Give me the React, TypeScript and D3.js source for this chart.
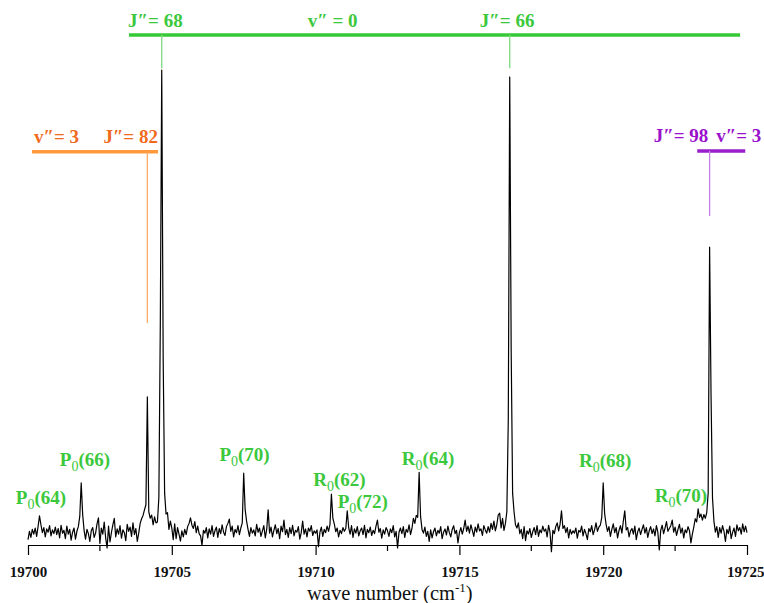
import React, { useEffect, useRef } from "react";
import * as d3 from "d3";

// spectrum sampled every 0.05 cm-1 from 19700 to 19725
const waveStart = 19700;
const waveStep = 0.05;
const intensity = [
  -1.0, 0.8, -0.5, 1.2, 0.2, 1.5, -0.3, 1.8, 4.1, 2.2, 0.5, 1.6, -0.4, 1.3, 0.6, 2.0, -0.2, 1.1, 0.3, 1.7,
  0.1, 1.4, -0.6, 2.1, 0.4, 1.0, -0.8, 1.9, 0.2, 1.2, -1.1, 0.6, 1.5, -0.9, 0.8, 1.8, 4.0, 11.2, 4.5, 1.0,
  -0.9, 1.2, 0.3, -1.4, 0.9, 1.6, -0.5, 0.4, 2.4, 3.7, -1.8, 1.5, 0.2, 2.8, -0.6, -2.8, 1.9, -1.5, 0.5, 2.2,
  3.6, -0.4, 1.3, 0.2, 2.0, -0.7, 1.1, 0.5, -1.2, 2.3, 0.8, 1.7, -0.3, 2.6, 0.1, 1.4, -1.4, 0.4, 2.5, 3.5,
  4.2, 5.4, 6.5, 29.7, 5.0, 3.6, 4.3, 2.2, 3.9, 2.6, 2.8, 8.0, 45, 100, 38, 9.0, 4.5, 4.8, 1.2, 3.0,
  1.5, -1.0, 2.4, -0.8, 1.6, 0.2, -1.3, 0.9, -0.4, 1.2, 0.1, 1.8, 2.5, 3.7, 2.1, 1.4, 2.9, 0.5, 1.9, 0.3,
  -0.2, -2.2, 1.0, 0.4, 1.6, -0.6, 1.3, 0.2, 2.0, -0.3, 0.9, 1.7, -0.5, 1.4, 0.3, 2.2, 0.6, -0.1, 1.8, 2.5,
  3.4, 0.8, 1.9, -0.4, 1.2, 0.5, 2.0, 0.1, 1.5, 2.6, 13.3, 5.5, 3.0, 1.2, -0.3, 1.6, 0.4, 1.1, -0.2, 2.3,
  0.6, 1.5, -0.3, 0.9, 2.0, -0.6, 1.2, 5.4, 0.4, 1.7, -0.4, 1.0, 2.2, 0.3, 1.4, -0.8, 1.9, 0.7, 3.2, 0.1,
  1.2, -0.5, 1.6, 0.3, 2.1, -0.2, 1.0, 0.6, 1.8, -0.9, 0.5, 3.0, 0.2, 1.3, -0.4, 1.5, 0.8, 2.0, -0.1, 0.9,
  0.4, 1.1, -2.5, 0.6, 1.7, -0.3, 1.2, 0.5, 1.9, 0.8, 2.3, 8.8, 3.6, 2.4, 0.7, 1.5, -0.4, 1.0, 0.3, 1.6,
  0.8, 1.4, 5.2, 1.6, 0.2, 2.0, -0.5, 1.3, 0.4, 1.8, -0.2, 0.9, 1.5, 0.1, 2.1, -0.6, 1.2, 0.5, 1.7, -0.1,
  1.0, 0.3, 1.9, 3.2, 0.6, 1.4, -0.7, 1.1, 0.2, 1.6, 0.9, -0.3, 1.3, 0.5, 2.0, -0.4, 0.8, -2.8, 0.6, 1.5,
  0.3, 1.8, -0.5, 1.2, 0.6, 2.2, 0.1, 1.4, 3.6, 2.5, 4.2, 3.8, 13.5, 4.0, 1.2, 0.4, 1.7, -0.3, 0.8, -1.4,
  1.1, -0.6, 0.7, 1.5, -0.2, 1.0, 0.4, 1.8, -0.8, 0.6, 1.3, 0.0, 1.9, 0.5, -0.4, 1.2, 2.0, 0.3, 1.0, -1.7,
  0.5, 1.6, 0.2, 1.4, 3.2, 0.8, 1.9, 0.4, 2.2, 1.0, -0.3, 1.7, 0.6, 2.4, 0.9, 1.3, -0.1, 2.0, 1.1, 0.4,
  1.8, 0.6, 2.5, 1.2, 3.0, 0.9, 2.2, 4.3, 4.7, 1.5, 3.6, 1.0, 2.5, 5.0, 25, 98.5, 40, 9.0, 5.0, 2.2,
  1.5, 2.6, 0.3, 1.2, -0.8, 1.8, -1.2, 0.9, 0.2, 1.4, -0.5, 0.7, 1.6, 0.1, 2.0, -0.3, 1.1, 0.5, 1.9, 0.8,
  1.3, -0.4, 2.1, 0.6, -3.6, 1.0, 0.3, 1.8, 2.6, 0.9, 2.3, 5.2, 1.4, 2.0, 0.5, 1.6, -0.6, 1.2, 0.2, 0.9,
  0.4, 1.5, -0.7, 1.0, 0.6, 1.9, -0.2, 1.2, 0.3, -1.0, 1.4, 0.7, 2.0, 0.1, 1.1, 2.6, 0.8, 1.7, 2.1, 3.8,
  11.2, 4.6, 2.3, 0.8, 1.8, -0.3, 1.2, 2.4, 0.5, 1.6, -0.6, 1.0, 2.0, 0.4, 3.0, 5.2, 1.1, 1.6, -0.4, 0.9,
  1.4, 0.2, 1.9, -1.0, 0.7, 1.5, 0.1, 1.2, 2.2, 0.4, 1.6, -0.5, 0.9, 1.8, 0.3, 1.3, -0.2, 2.0, 0.6, -3.2,
  1.0, 2.1, 0.3, 1.5, 2.9, 0.8, 1.4, 2.0, 3.2, 0.6, 1.7, -0.1, 1.2, 2.3, 0.4, 1.5, -0.6, 1.1, 0.5, 1.8,
  0.9, -1.7, 0.2, 1.7, 3.5, 2.8, 5.6, 3.8, 4.5, 3.2, 4.4, 3.6, 4.8, 9.0, 61.9, 30, 8.0, 3.0, 0.6, 1.8,
  -0.5, 1.6, 0.4, 2.0, 0.8, -1.4, 1.2, 0.3, 1.9, -0.8, 0.6, 1.5, -0.3, 2.2, 0.9, 1.6, 0.2, 2.4, 0.7, 1.9,
  0.5
];

const xTicks = [19700, 19705, 19710, 19715, 19720, 19725];
const xMinorTicks = [19702.5, 19707.5, 19712.5, 19717.5, 19722.5];

// rotational line labels: branch, J, and where the label sits (wave, intensity)
const lineBranch = ["P", "P", "P", "R", "P", "R", "R", "R"];
const lineJ = ["64", "66", "70", "62", "72", "64", "68", "70"];
const lineLabelWave = [19700.45, 19701.98, 19707.53, 19710.83, 19711.64, 19713.91, 19720.07, 19722.7];
const lineLabelLevel = [6.7, 14.8, 15.9, 10.5, 5.8, 15.05, 14.6, 7.1];

// v'' = 0 progression bar
const v0Bar = [19703.51, 19724.76];
const v0BarLevel = 107.5;
const v0Marks = [19704.65, 19716.75];
const v0MarkEnd = 100.4;
const v0Texts = [["J″= 68"], ["v″ = 0"], ["J″= 66"]];
const v0TextWaves = [19704.43, 19710.59, 19716.66];
const v0TextLevel = 109.2;

// v'' = 3, J'' = 82
const v3aBar = [19700.14, 19704.52];
const v3aBarLevel = 82.4;
const v3aMark = 19704.15;
const v3aMarkEnd = 45.6;
const v3aTexts = [["v″= 3"], ["J″= 82"]];
const v3aTextWaves = [19700.99, 19703.57];
const v3aTextLevel = 84.3;

// v'' = 3, J'' = 98 (text ends at the right edge)
const v3bBar = [19723.27, 19724.94];
const v3bBarLevel = 82.6;
const v3bMark = 19723.7;
const v3bMarkEnd = 68.6;
const v3bTexts = [["J″= 98", "v″= 3"]];
const v3bTextWaves = [19725.5];
const v3bTextLevel = 84.5;

const serif = "'Liberation Serif', 'Times New Roman', serif";

export default function App() {
  const ref = useRef<SVGSVGElement>(null);

  useEffect(() => {
    const svg = d3.select(ref.current);
    svg.selectAll("*").remove();

    const x = d3.scaleLinear().domain([19700, 19725]).range([28, 747]);
    const y = d3.scaleLinear().domain([-2.15, 100]).range([545, 70]);

    // axis
    const axis = svg.append("g").attr("transform", "translate(0,545)");
    axis.call(
      d3
        .axisBottom(x)
        .tickValues(xTicks)
        .tickSize(10)
        .tickSizeOuter(0)
        .tickPadding(11)
        .tickFormat(d3.format("d"))
    );
    axis.select(".domain").attr("stroke", "#000").attr("stroke-width", 1.2);
    axis.selectAll(".tick line").attr("stroke", "#000").attr("stroke-width", 1.2);
    axis
      .selectAll(".tick text")
      .attr("fill", "#111")
      .style("font-family", serif)
      .style("font-size", "15px")
      .style("font-weight", "bold");
    // last label sits against the right edge
    axis
      .selectAll<SVGTextElement, number>(".tick text")
      .filter(d => d === 19725)
      .attr("text-anchor", "end")
      .attr("x", 17);
    axis
      .selectAll(".minor")
      .data(xMinorTicks)
      .enter()
      .append("line")
      .attr("x1", d => x(d))
      .attr("x2", d => x(d))
      .attr("y1", 0)
      .attr("y2", 6)
      .attr("stroke", "#000")
      .attr("stroke-width", 1.2);

    const title = svg
      .append("text")
      .attr("x", 307)
      .attr("y", 600)
      .style("font-family", serif)
      .style("font-size", "20.5px")
      .attr("fill", "#111");
    title.append("tspan").text("wave number (cm");
    title.append("tspan").attr("dy", -8).style("font-size", "13px").text("-1");
    title.append("tspan").attr("dy", 8).text(")");

    // spectrum trace
    const pts = intensity.map((v, i) => [waveStart + i * waveStep, v] as [number, number]);
    const line = d3
      .line<[number, number]>()
      .x(d => x(d[0]))
      .y(d => y(d[1]));
    svg
      .append("path")
      .attr("d", line(pts))
      .attr("fill", "none")
      .attr("stroke", "#000")
      .attr("stroke-width", 1.2)
      .attr("stroke-linejoin", "round");

    // line labels
    const green = "#3cc83c";
    lineBranch.forEach((b, i) => {
      const t = svg
        .append("text")
        .attr("x", x(lineLabelWave[i]))
        .attr("y", y(lineLabelLevel[i]))
        .attr("text-anchor", "middle")
        .attr("fill", green)
        .style("font-family", serif)
        .style("font-size", "19px")
        .style("font-weight", "bold");
      t.append("tspan").text(b);
      t.append("tspan")
        .attr("dy", 5)
        .style("font-size", "14px")
        .style("font-weight", "normal")
        .text("0");
      t.append("tspan").attr("dy", -5).text("(" + lineJ[i] + ")");
    });

    const band = (
      bar: number[],
      barLevel: number,
      marks: number[],
      markEnd: number,
      texts: string[][],
      textWaves: number[],
      textLevel: number,
      anchor: string,
      barColor: string,
      markColor: string,
      textColor: string
    ) => {
      svg
        .append("line")
        .attr("x1", x(bar[0]))
        .attr("x2", x(bar[1]))
        .attr("y1", y(barLevel))
        .attr("y2", y(barLevel))
        .attr("stroke", barColor)
        .attr("stroke-width", 3.5);
      marks.forEach(m => {
        svg
          .append("line")
          .attr("x1", x(m))
          .attr("x2", x(m))
          .attr("y1", y(barLevel))
          .attr("y2", y(markEnd))
          .attr("stroke", markColor)
          .attr("stroke-width", 1.3);
      });
      texts.forEach((parts, i) => {
        const t = svg
          .append("text")
          .attr("x", x(textWaves[i]))
          .attr("y", y(textLevel))
          .attr("text-anchor", anchor)
          .attr("fill", textColor)
          .style("font-family", serif)
          .style("font-size", "19px")
          .style("font-weight", "bold");
        parts.forEach((p, k) => {
          t.append("tspan").attr("dx", k > 0 ? 8 : 0).text(p);
        });
      });
    };

    band(v0Bar, v0BarLevel, v0Marks, v0MarkEnd, v0Texts, v0TextWaves, v0TextLevel, "middle", "#36c936", "#7fd97f", green);
    band(v3aBar, v3aBarLevel, [v3aMark], v3aMarkEnd, v3aTexts, v3aTextWaves, v3aTextLevel, "middle", "#ff9a3c", "#ffaa66", "#f06a1e");
    band(v3bBar, v3bBarLevel, [v3bMark], v3bMarkEnd, v3bTexts, v3bTextWaves, v3bTextLevel, "end", "#9a1ecc", "#c77ee8", "#9a10cc");
  }, []);

  return (
    <svg
      ref={ref}
      width={764}
      height={603}
      style={{ position: "absolute", left: 0, top: 0, background: "#fff" }}
    />
  );
}
